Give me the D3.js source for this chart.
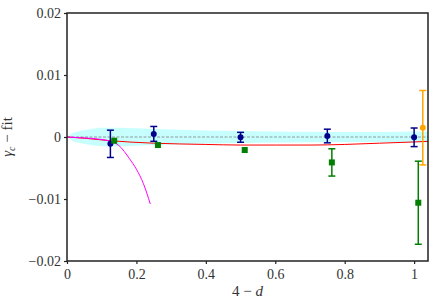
<!DOCTYPE html>
<html>
<head>
<meta charset="utf-8">
<script src="https://cdn.jsdelivr.net/npm/d3@7"></script>
<style>
  body { margin: 0; background: #fff; }
</style>
</head>
<body>
<div id="js_chart"></div>
<script>
// Data
var xTicks = [0, 0.2, 0.4, 0.6, 0.8, 1];
var xTickLabels = ["0", "0.2", "0.4", "0.6", "0.8", "1"];
var yTicks = [0.02, 0.01, 0, -0.01, -0.02];
var yTickLabels = ["0.02", "0.01", "0", "\u22120.01", "\u22120.02"];

var blueX   = [0.125, 0.25, 0.5, 0.75, 1.0];
var blueY   = [-0.0011, 0.0005, -0.00005, 0.00016, -0.00005];
var blueErr = [0.0022, 0.0012, 0.0008, 0.0011, 0.0015];

var greenX   = [0.136, 0.262, 0.512, 0.763, 1.012];
var greenY   = [-0.0006, -0.0013, -0.0021, -0.0041, -0.0106];
var greenErr = [0, 0, 0, 0.0022, 0.0067];

var orangeX   = [1.025];
var orangeY   = [0.0015];
var orangeErr = [0.006];

var bandX  = [0, 0.015, 0.04, 0.07, 0.1, 0.15, 0.2, 0.3, 0.4, 0.5, 0.6, 0.7, 0.8, 0.9, 1.0, 1.04];
var bandHW = [0, 0.0006, 0.001, 0.0013, 0.0015, 0.0015, 0.0014, 0.0012, 0.00105, 0.00095, 0.0009, 0.00085, 0.0008, 0.00082, 0.00088, 0.0009];

var redX = [0, 0.05, 0.125, 0.25, 0.4, 0.5, 0.6, 0.7, 0.8, 0.9, 1.0, 1.04];
var redY = [0, -0.0002, -0.0006, -0.001, -0.0012, -0.0013, -0.0013, -0.0013, -0.0012, -0.001, -0.0008, -0.0007];

var magX = [0, 0.05, 0.1, 0.125, 0.15, 0.18, 0.2, 0.22, 0.24];
var magY = [0, -0.00015, -0.0004, -0.0007, -0.0014, -0.0035, -0.0052, -0.0075, -0.0108];

var FONT = "'Liberation Serif', 'Times New Roman', 'DejaVu Serif', serif";

function createPlot() {
    var margin = {top: 13, right: 7, bottom: 44, left: 67},
        W = 435, H = 305,
        width = W - margin.left - margin.right,
        height = H - margin.top - margin.bottom;

    var x = d3.scaleLinear().domain([0, 1.04]).range([0, width]);
    var y = d3.scaleLinear().domain([-0.02, 0.02]).range([height, 0]);

    var svg = d3.select("#js_chart").append("svg")
        .attr("width", W).attr("height", H)
        .append("g")
        .attr("transform", "translate(" + margin.left + "," + margin.top + ")");

    var plot = svg.append("g");

    // cyan band
    var band = bandX.map(function (d, i) { return {x: d, hw: bandHW[i]}; });
    plot.append("path").datum(band)
        .attr("fill", "#00ffff").attr("fill-opacity", 0.22)
        .attr("d", d3.area().curve(d3.curveMonotoneX)
            .x(function (d) { return x(d.x); })
            .y0(function (d) { return y(-d.hw); })
            .y1(function (d) { return y(d.hw); }));

    // dashed zero line
    plot.append("line")
        .attr("x1", x(0)).attr("x2", x(1.04))
        .attr("y1", y(0)).attr("y2", y(0))
        .attr("stroke", "#808080").attr("stroke-width", 0.8)
        .attr("stroke-dasharray", "3,1.5");

    var line = d3.line().curve(d3.curveMonotoneX)
        .x(function (d) { return x(d.x); })
        .y(function (d) { return y(d.y); });

    plot.append("path").datum(redX.map(function (d, i) { return {x: d, y: redY[i]}; }))
        .attr("fill", "none").attr("stroke", "#ff0000").attr("stroke-width", 1)
        .attr("d", line);

    plot.append("path").datum(magX.map(function (d, i) { return {x: d, y: magY[i]}; }))
        .attr("fill", "none").attr("stroke", "#ff00ff").attr("stroke-width", 1)
        .attr("d", line);

    function errorSeries(xs, ys, es, color, shape) {
        var data = xs.map(function (d, i) { return {x: d, y: ys[i], e: es[i]}; });
        var g = plot.append("g");
        var eb = data.filter(function (d) { return d.e > 0; });
        g.selectAll(".bar").data(eb).enter().append("line")
            .attr("x1", function (d) { return x(d.x); }).attr("x2", function (d) { return x(d.x); })
            .attr("y1", function (d) { return y(d.y + d.e); }).attr("y2", function (d) { return y(d.y - d.e); })
            .attr("stroke", color).attr("stroke-width", 1.5);
        [1, -1].forEach(function (s) {
            g.selectAll(".cap" + s).data(eb).enter().append("line")
                .attr("x1", function (d) { return x(d.x) - 3.5; }).attr("x2", function (d) { return x(d.x) + 3.5; })
                .attr("y1", function (d) { return y(d.y + s * d.e); }).attr("y2", function (d) { return y(d.y + s * d.e); })
                .attr("stroke", color).attr("stroke-width", 1.5);
        });
        if (shape === "square") {
            g.selectAll("rect").data(data).enter().append("rect")
                .attr("x", function (d) { return x(d.x) - 3; }).attr("y", function (d) { return y(d.y) - 3; })
                .attr("width", 6).attr("height", 6).attr("fill", color);
        } else {
            g.selectAll("circle").data(data).enter().append("circle")
                .attr("cx", function (d) { return x(d.x); }).attr("cy", function (d) { return y(d.y); })
                .attr("r", 3).attr("fill", color);
        }
    }

    errorSeries(blueX, blueY, blueErr, "#00008b", "circle");
    errorSeries(greenX, greenY, greenErr, "#007f00", "square");
    errorSeries(orangeX, orangeY, orangeErr, "#ffa500", "circle");

    // axes
    var xAxis = svg.append("g").attr("transform", "translate(0," + height + ")")
        .call(d3.axisBottom(x).tickValues(xTicks)
            .tickFormat(function (d, i) { return xTickLabels[i]; })
            .tickSizeInner(3).tickSizeOuter(0).tickPadding(5));
    var yAxis = svg.append("g")
        .call(d3.axisLeft(y).tickValues(yTicks)
            .tickFormat(function (d, i) { return yTickLabels[i]; })
            .tickSizeInner(3).tickSizeOuter(0).tickPadding(3));
    [xAxis, yAxis].forEach(function (a) {
        a.attr("font-family", FONT).attr("font-size", 14);
        a.select(".domain").remove();
        a.selectAll("line").attr("stroke", "#222").attr("stroke-width", 1.2);
        a.selectAll("text").attr("fill", "#333");
    });

    // frame
    svg.append("rect").attr("x", 0).attr("y", 0)
        .attr("width", width).attr("height", height)
        .attr("fill", "none").attr("stroke", "#222").attr("stroke-width", 1.5);

    // axis labels
    var xl = svg.append("text")
        .attr("x", width / 2).attr("y", height + 35)
        .attr("text-anchor", "middle").attr("font-family", FONT)
        .attr("font-size", 15).attr("fill", "#333");
    xl.append("tspan").text("4 \u2212 ");
    xl.append("tspan").attr("font-style", "italic").text("d");

    var yl = svg.append("text")
        .attr("transform", "translate(" + (-55) + "," + (height / 2) + ") rotate(-90)")
        .attr("text-anchor", "middle").attr("font-family", FONT)
        .attr("font-size", 15).attr("fill", "#333");
    yl.append("tspan").attr("font-style", "italic").text("\u03b3");
    yl.append("tspan").attr("font-style", "italic").attr("font-size", 10).attr("dy", 3).text("c");
    yl.append("tspan").attr("dy", -3).text(" \u2212 fit");
}

createPlot();
</script>
</body>
</html>
